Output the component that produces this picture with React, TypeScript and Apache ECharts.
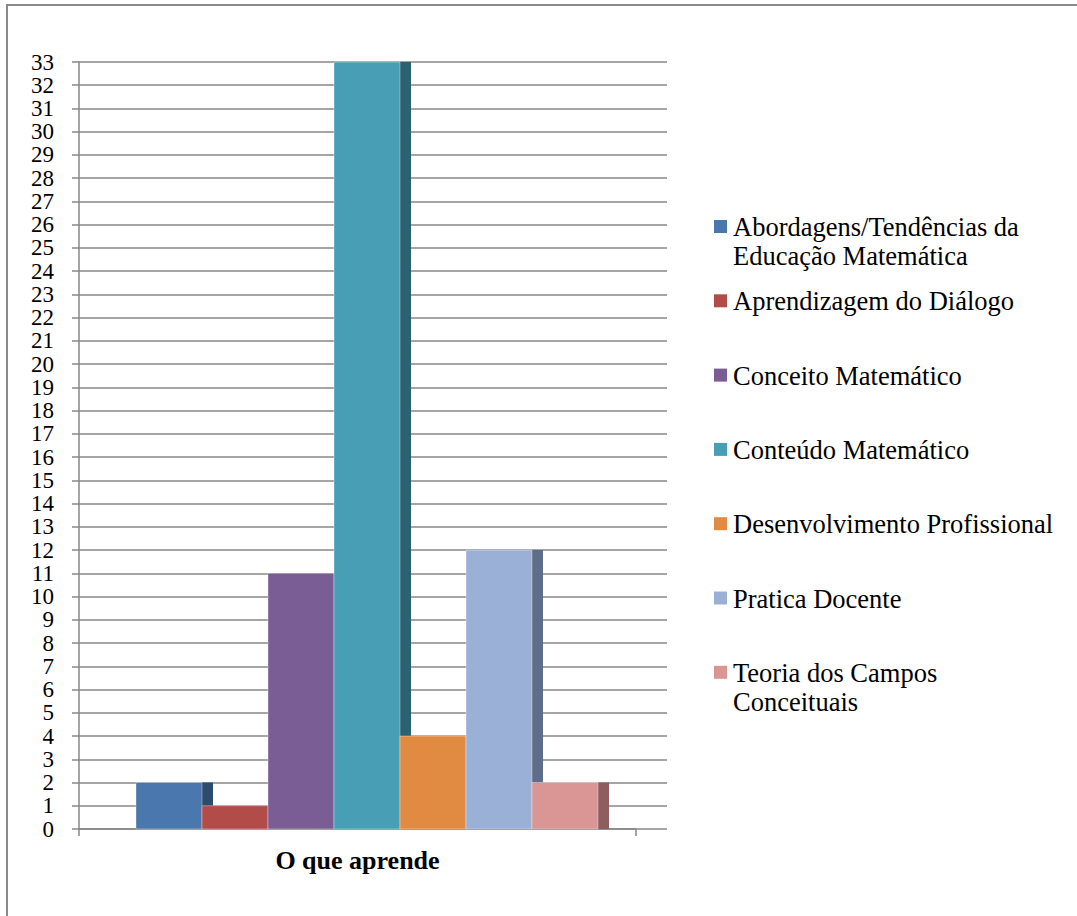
import React, { useEffect, useRef } from "react";
import * as echarts from "echarts";

const categories = ["O que aprende"];
const seriesNames = [
  "Abordagens/Tendências da Educação Matemática",
  "Aprendizagem do Diálogo",
  "Conceito Matemático",
  "Conteúdo Matemático",
  "Desenvolvimento Profissional",
  "Pratica Docente",
  "Teoria dos Campos Conceituais",
];
const legendLabels = [
  "Abordagens/Tendências da\nEducação Matemática",
  "Aprendizagem do Diálogo",
  "Conceito Matemático",
  "Conteúdo Matemático",
  "Desenvolvimento Profissional",
  "Pratica Docente",
  "Teoria dos Campos\nConceituais",
];
const seriesValues = [2, 1, 11, 33, 4, 12, 2];
const frontColors = ["#4A77AD", "#B24C49", "#7A5D94", "#489FB5", "#E18A42", "#9BB0D7", "#D99695"];
const sideColors = ["#2D4B6E", "#733130", "#4D3A5E", "#2A6271", "#945A2A", "#5E6D8A", "#8C5E5E"];
const yMin = 0;
const yMax = 33;
const yInterval = 1;

const FONT = "'Liberation Serif', 'Times New Roman', serif";
const GRID_COLOR = "#878787";

export default function App() {
  const ref = useRef<HTMLDivElement>(null);

  useEffect(() => {
    document.body.style.margin = "0";
    if (!ref.current) return;
    const chart = echarts.init(ref.current, undefined, { renderer: "svg" });

    // band fractions (layout)
    const OFFSET = 57 / 557;
    const W = 66 / 557;
    const D = 11 / 557;

    const customSeries = seriesNames.map((name, i) => ({
      type: "custom",
      name,
      xAxisIndex: 1,
      yAxisIndex: 1,
      encode: { x: 0, y: 1 },
      data: [[0, seriesValues[i]]],
      renderItem: (params: any, api: any) => {
        const base = api.coord([api.value(0), 0]);
        const top = api.coord([api.value(0), api.value(1)]);
        const band = api.size([1, 0])[0];
        const left = base[0] - band / 2 + band * (OFFSET + i * W);
        const w = band * W;
        const d = band * D;
        const h = base[1] - top[1];
        return {
          type: "group",
          children: [
            {
              type: "rect",
              shape: { x: left + w, y: top[1], width: d, height: h },
              style: { fill: sideColors[i] },
            },
            {
              type: "rect",
              shape: { x: left, y: top[1], width: w, height: h },
              style: { fill: frontColors[i], stroke: "rgba(255,255,255,0.35)", lineWidth: 1 },
            },
          ],
        };
      },
    }));

    const legendStartY = 227;
    const legendStep = 74.3;
    const legendGraphics: any[] = [];
    legendLabels.forEach((label, i) => {
      const cy = legendStartY + legendStep * i;
      legendGraphics.push({
        type: "rect",
        shape: { x: 714, y: cy - 7, width: 13, height: 13 },
        style: { fill: frontColors[i] },
      });
      legendGraphics.push({
        type: "text",
        x: 733,
        y: cy - 14.5,
        style: {
          text: label,
          font: "26.5px 'Liberation Serif', 'Times New Roman', serif",
          fill: "#000",
          lineHeight: 29,
          verticalAlign: "top",
          align: "left",
        },
      });
    });

    chart.setOption({
      animation: false,
      textStyle: { fontFamily: FONT },
      grid: [
        { left: 79, right: 410, top: 62, bottom: 87 },
        { left: 79, right: 441, top: 62, bottom: 87 },
      ],
      xAxis: [
        { type: "value", gridIndex: 0, min: 0, max: 1, show: false },
        {
          type: "category",
          gridIndex: 1,
          data: categories,
          boundaryGap: true,
          axisLine: { show: true, lineStyle: { color: GRID_COLOR, width: 1.5 } },
          axisTick: { show: true, length: 7, lineStyle: { color: GRID_COLOR, width: 1.5 } },
          axisLabel: {
            margin: 18,
            fontFamily: FONT,
            fontSize: 26,
            fontWeight: "bold",
            color: "#000",
          },
        },
      ],
      yAxis: [
        {
          type: "value",
          gridIndex: 0,
          min: yMin,
          max: yMax,
          interval: yInterval,
          axisLine: { show: true, lineStyle: { color: GRID_COLOR, width: 1.5 } },
          axisTick: { show: true, length: 7, lineStyle: { color: GRID_COLOR, width: 1.5 } },
          splitLine: { show: true, lineStyle: { color: GRID_COLOR, width: 1.6 } },
          axisLabel: {
            margin: 25,
            fontFamily: FONT,
            fontSize: 23,
            lineHeight: 18,
            color: "#000",
            showMinLabel: true,
            showMaxLabel: true,
            hideOverlap: false,
          },
        },
        {
          type: "value",
          gridIndex: 1,
          min: yMin,
          max: yMax,
          interval: yInterval,
          show: false,
        },
      ],
      graphic: [
        {
          type: "rect",
          shape: { x: 7, y: 5, width: 1300, height: 1100 },
          style: { fill: "none", stroke: "#8A8A8A", lineWidth: 2 },
          silent: true,
        },
        ...legendGraphics,
      ],
      series: customSeries,
    });

    return () => chart.dispose();
  }, []);

  return <div ref={ref} style={{ width: 1077, height: 916 }} />;
}
